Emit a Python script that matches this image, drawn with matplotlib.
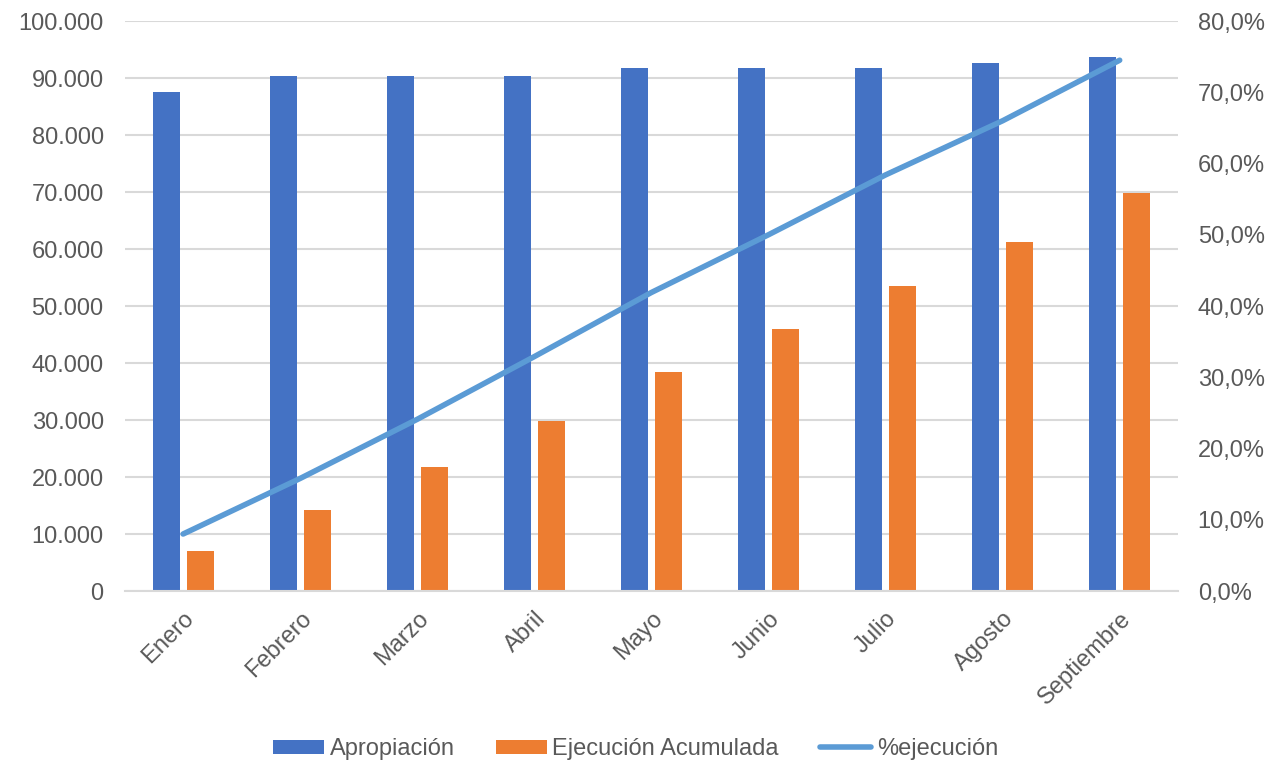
import matplotlib.pyplot as plt
import numpy as np
from matplotlib.ticker import FuncFormatter

# Datos
meses = ['Enero', 'Febrero', 'Marzo', 'Abril', 'Mayo', 'Junio', 'Julio', 'Agosto', 'Septiembre']
apropiacion = [87500, 90400, 90400, 90400, 91800, 91800, 91800, 92700, 93700]
ejecucion = [7000, 14300, 21800, 29800, 38500, 45900, 53600, 61200, 69800]
pct_ejecucion = [8.0, 15.8, 24.1, 32.9, 41.9, 50.0, 58.4, 66.0, 74.5]

plt.rcParams['font.family'] = ['Liberation Sans', 'DejaVu Sans']
gris = '#595959'
fs = 17

fig = plt.figure(figsize=(12.71, 7.62), dpi=100)
ax = fig.add_axes([0.098, 0.2244, 0.829, 0.748])
ax2 = ax.twinx()

x = np.arange(len(meses))
w = 0.23
ax.bar(x - 0.145, apropiacion, w, color='#4472C4', label='Apropiación', zorder=2)
ax.bar(x + 0.145, ejecucion, w, color='#ED7D31', label='Ejecución Acumulada', zorder=2)
ax2.plot(x, pct_ejecucion, color='#5B9BD5', linewidth=4, solid_capstyle='round',
         label='%ejecución', zorder=3)

ax.set_xlim(-0.5, len(meses) - 0.5)
ax.set_ylim(0, 100000)
ax.set_yticks(np.arange(0, 100001, 10000))
ax.yaxis.set_major_formatter(FuncFormatter(lambda v, p: f'{int(v):,}'.replace(',', '.')))
ax2.set_ylim(0, 80)
ax2.set_yticks(np.arange(0, 81, 10))
ax2.yaxis.set_major_formatter(FuncFormatter(lambda v, p: f'{v:.1f}%'.replace('.', ',')))

ax.grid(axis='y', color='#d9d9d9', linewidth=1.5, zorder=0)
ax.set_axisbelow(True)
for a in (ax, ax2):
    for s in a.spines.values():
        s.set_visible(False)
    a.tick_params(length=0, labelsize=fs, colors=gris)
ax.tick_params(axis='y', pad=15)
ax2.tick_params(axis='y', pad=14)
ax.spines['bottom'].set_visible(True)
ax.spines['bottom'].set_color('#d9d9d9')
ax.spines['bottom'].set_linewidth(1.5)

ax.set_xticks(x)
ax.set_xticklabels(meses, rotation=45, ha='right', rotation_mode='anchor')
ax.tick_params(axis='x', pad=12)

# Leyenda
h1, l1 = ax.get_legend_handles_labels()
h2, l2 = ax2.get_legend_handles_labels()
fig.legend(h1 + h2, l1 + l2, loc='center', ncol=3, frameon=False,
           fontsize=fs, labelcolor=gris, bbox_to_anchor=(0.5, 0.017),
           handlelength=2.15, handleheight=0.55, columnspacing=1.75, handletextpad=0.25,
           borderpad=0)

plt.savefig('out.png', dpi=100)
plt.close()
